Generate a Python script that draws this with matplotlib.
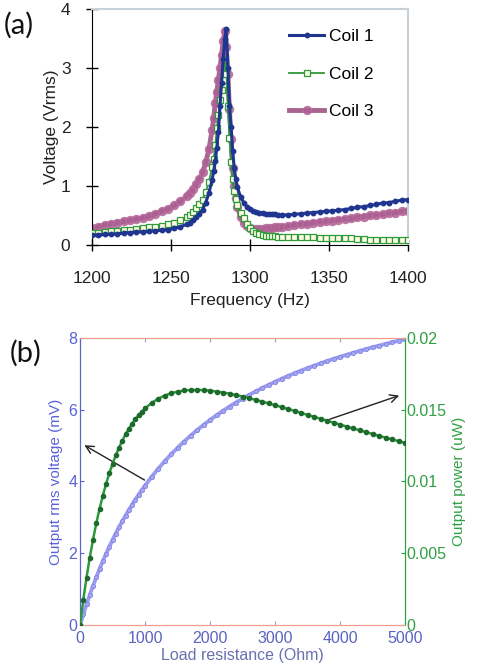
import matplotlib
matplotlib.use("Agg")
import matplotlib.pyplot as plt

plt.rcParams['font.family'] = ['Liberation Sans', 'DejaVu Sans']

# (a) frequency sweep, three coils
freq = [1200, 1204, 1208, 1212, 1216, 1220, 1224, 1228, 1232, 1236, 1240, 1244, 1248, 1252, 1256, 1260,
        1262, 1264, 1266, 1268, 1270, 1272, 1274, 1276,
        1277, 1278, 1279, 1280, 1281, 1282, 1283, 1284, 1285, 1286, 1287, 1288, 1289, 1290, 1291, 1292,
        1294, 1296, 1298, 1300, 1302, 1304, 1306, 1308, 1310, 1312, 1314, 1316, 1318, 1320,
        1324, 1328, 1332, 1336, 1340, 1344, 1348, 1352, 1356, 1360, 1364, 1368, 1372, 1376, 1380, 1384,
        1388, 1392, 1396, 1400]
coil1 = [0.17, 0.17, 0.18, 0.18, 0.19, 0.20, 0.21, 0.22, 0.22, 0.23, 0.24, 0.25, 0.26, 0.28, 0.31, 0.35,
         0.38, 0.42, 0.47, 0.53, 0.60, 0.72, 0.88, 1.10,
         1.25, 1.42, 1.65, 1.92, 2.35, 2.75, 3.15, 3.50, 3.66, 3.00, 2.35, 2.00, 1.60, 1.30, 1.12, 0.98,
         0.82, 0.72, 0.65, 0.61, 0.58, 0.56, 0.55, 0.54, 0.53, 0.53, 0.52, 0.52, 0.51, 0.51,
         0.51, 0.52, 0.53, 0.54, 0.55, 0.56, 0.57, 0.58, 0.59, 0.60, 0.62, 0.64, 0.65, 0.67, 0.69, 0.71,
         0.72, 0.74, 0.76, 0.77]
coil2 = [0.20, 0.21, 0.22, 0.23, 0.24, 0.25, 0.26, 0.27, 0.28, 0.30, 0.31, 0.33, 0.35, 0.38, 0.42, 0.47,
         0.51, 0.56, 0.62, 0.69, 0.77, 0.90, 1.07, 1.32,
         1.45, 1.70, 1.98, 2.20, 2.45, 2.62, 2.80, 3.16, 2.90, 2.35, 1.82, 1.40, 1.12, 0.92, 0.78, 0.67,
         0.55, 0.45, 0.36, 0.29, 0.24, 0.21, 0.19, 0.17, 0.16, 0.15, 0.15, 0.15, 0.14, 0.14,
         0.14, 0.14, 0.14, 0.14, 0.13, 0.12, 0.12, 0.12, 0.11, 0.11, 0.11, 0.10, 0.10, 0.09, 0.09, 0.09,
         0.09, 0.09, 0.09, 0.09]
coil3 = [0.28, 0.31, 0.34, 0.36, 0.38, 0.40, 0.42, 0.44, 0.46, 0.49, 0.53, 0.57, 0.61, 0.67, 0.74, 0.83,
         0.88, 0.95, 1.03, 1.12, 1.23, 1.40, 1.62, 1.95,
         2.15, 2.40, 2.60, 2.80, 3.00, 3.22, 3.45, 3.62, 3.35, 2.90, 2.30, 1.80, 1.30, 1.00, 0.80, 0.65,
         0.48, 0.38, 0.32, 0.29, 0.27, 0.27, 0.27, 0.27, 0.28, 0.28, 0.29, 0.30, 0.30, 0.31,
         0.32, 0.34, 0.35, 0.36, 0.38, 0.39, 0.40, 0.41, 0.43, 0.44, 0.45, 0.47, 0.48, 0.50, 0.51, 0.52,
         0.54, 0.55, 0.57, 0.58]
freq_ticks = [1200, 1250, 1300, 1350, 1400]
volt_ticks = [0, 1, 2, 3, 4]

# (b) load sweep
load = [0, 50, 100, 150, 200, 250, 300, 350, 400, 450, 500, 550, 600, 650, 700, 750, 800, 850, 900, 950,
        1000, 1100, 1200, 1300, 1400, 1500, 1600, 1700, 1800, 1900, 2000, 2100, 2200, 2300, 2400, 2500,
        2600, 2700, 2800, 2900, 3000, 3100, 3200, 3300, 3400, 3500, 3600, 3700, 3800, 3900, 4000, 4100,
        4200, 4300, 4400, 4500, 4600, 4700, 4800, 4900, 5000]
v_out = [0.0, 0.295, 0.575, 0.839, 1.091, 1.330, 1.558, 1.775, 1.982, 2.179, 2.368, 2.549, 2.723, 2.889,
         3.048, 3.202, 3.349, 3.491, 3.627, 3.758, 3.885, 4.125, 4.349, 4.558, 4.755, 4.939, 5.112, 5.276,
         5.430, 5.576, 5.714, 5.845, 5.970, 6.088, 6.201, 6.308, 6.411, 6.509, 6.603, 6.692, 6.778, 6.861,
         6.940, 7.016, 7.089, 7.159, 7.227, 7.292, 7.355, 7.416, 7.474, 7.531, 7.585, 7.638, 7.689, 7.739,
         7.787, 7.833, 7.878, 7.922, 7.965]
p_out = [0.0, 0.00174, 0.00330, 0.00470, 0.00595, 0.00708, 0.00809, 0.00900, 0.00982, 0.01056, 0.01122,
         0.01182, 0.01236, 0.01284, 0.01328, 0.01367, 0.01402, 0.01433, 0.01462, 0.01487, 0.01509, 0.01547,
         0.01576, 0.01598, 0.01615, 0.01626, 0.01634, 0.01637, 0.01638, 0.01637, 0.01633, 0.01627, 0.01620,
         0.01612, 0.01602, 0.01592, 0.01581, 0.01569, 0.01557, 0.01544, 0.01532, 0.01518, 0.01505, 0.01492,
         0.01478, 0.01464, 0.01451, 0.01437, 0.01424, 0.01410, 0.01397, 0.01383, 0.01370, 0.01357, 0.01344,
         0.01331, 0.01318, 0.01306, 0.01293, 0.01281, 0.01269]

fig = plt.figure(figsize=(4.78, 6.69), dpi=100)

# ---- panel (a)
ax1 = fig.add_axes([0.1925, 0.6338, 0.661, 0.3527])
l3, = ax1.plot(freq, coil3, color='#9a4a7c', lw=3.5, marker='o', ms=6, mfc='#ad5f93',
               mec='#b86e9e', mew=0.8, alpha=0.85, zorder=2, label='Coil 3')
l2, = ax1.plot(freq, coil2, color='#2f9a3a', lw=1.3, marker='s', ms=3.8, mfc='#fffbe6',
               mec='#2f9a3a', mew=0.9, zorder=3, label='Coil 2')
l1, = ax1.plot(freq, coil1, color='#1f3590', lw=2.2, marker='o', ms=3.2, zorder=4, label='Coil 1')
ax1.set_xlim(1200, 1400)
ax1.set_ylim(0, 4)
ax1.set_xticks(freq_ticks)
ax1.set_yticks(volt_ticks)
for s in ['top', 'right']:
    ax1.spines[s].set_color('#c8d0d8')
    ax1.spines[s].set_linewidth(1.5)
for s in ['left', 'bottom']:
    ax1.spines[s].set_color('black')
ax1.tick_params(direction='inout', length=9, width=1, labelsize=12.5, color='black',
                labelcolor='#222222')
ax1.tick_params(axis='x', pad=14)
ax1.tick_params(axis='y', pad=11)
ax1.set_xlabel('Frequency (Hz)', fontsize=12.5, labelpad=5, color='#222222')
ax1.set_ylabel('Voltage (Vrms)', fontsize=12.5, labelpad=1, color='#222222')
ax1.legend([l1, l2, l3], ['Coil 1', 'Coil 2', 'Coil 3'], loc='upper left',
           bbox_to_anchor=(0.625, 0.915), frameon=False, fontsize=12.5, numpoints=1,
           handlelength=2.0, handletextpad=0.3, labelspacing=1.28, borderpad=0, borderaxespad=0)
fig.text(0.008, 0.962, '(a)', fontsize=21, family=['Lato', 'DejaVu Sans'], va='center', color='#111111')

# ---- panel (b)
blue = '#5a62d6'
green = '#2ea043'
ax2 = fig.add_axes([0.1674, 0.0658, 0.68, 0.429])
ax3 = ax2.twinx()
ax2.plot(load, v_out, color='#9a9cf0', lw=2.8, marker='o', ms=3, mfc='#a8a8f2', mec='#7f80e4',
         mew=0.6, zorder=3)
ax3.plot(load, p_out, color='#2c9a3c', lw=1.8, marker='o', ms=3, mfc='#1c6a2c', mec='#1c6a2c',
         zorder=3)
ax2.set_xlim(0, 5000)
ax2.set_ylim(0, 8)
ax3.set_ylim(0, 0.02)
ax2.set_xticks([0, 1000, 2000, 3000, 4000, 5000])
ax2.set_yticks([0, 2, 4, 6, 8])
ax3.set_yticks([0, 0.005, 0.01, 0.015, 0.02])
ax3.set_yticklabels(['0', '0.005', '0.01', '0.015', '0.02'])

for a in (ax2, ax3):
    a.spines['top'].set_color('#ee9c8c')
    a.spines['bottom'].set_color('#ee9c8c')
    a.spines['left'].set_color(blue)
    a.spines['right'].set_color(green)
ax2.tick_params(axis='x', direction='in', top=True, length=3, color='#9aa0c8', labelsize=11.5,
                labelcolor='#5b63c0', pad=4)
ax2.tick_params(axis='y', direction='in', length=3, color=blue, labelsize=11.5, labelcolor=blue, pad=2)
ax3.tick_params(axis='y', direction='in', length=3, color=green, labelsize=11.5, labelcolor=green, pad=1)
ax2.set_xlabel('Load resistance (Ohm)', fontsize=11.5, color='#6a70b0', labelpad=2)
ax2.set_ylabel('Output rms voltage (mV)', fontsize=11, color=blue, labelpad=4)
ax3.set_ylabel('Output power (uW)', fontsize=11, color=green, labelpad=4)

ax2.annotate('', xy=(30, 5.05), xytext=(1030, 4.0),
             arrowprops=dict(arrowstyle='->', color='#222222', lw=1, mutation_scale=14), zorder=5)
ax2.annotate('', xy=(4950, 6.42), xytext=(3800, 5.71),
             arrowprops=dict(arrowstyle='->', color='#222222', lw=1, mutation_scale=14), zorder=5)
fig.text(0.02, 0.472, '(b)', fontsize=21, family=['Lato', 'DejaVu Sans'], va='center', color='#111111')

fig.savefig('out.png', dpi=100)
